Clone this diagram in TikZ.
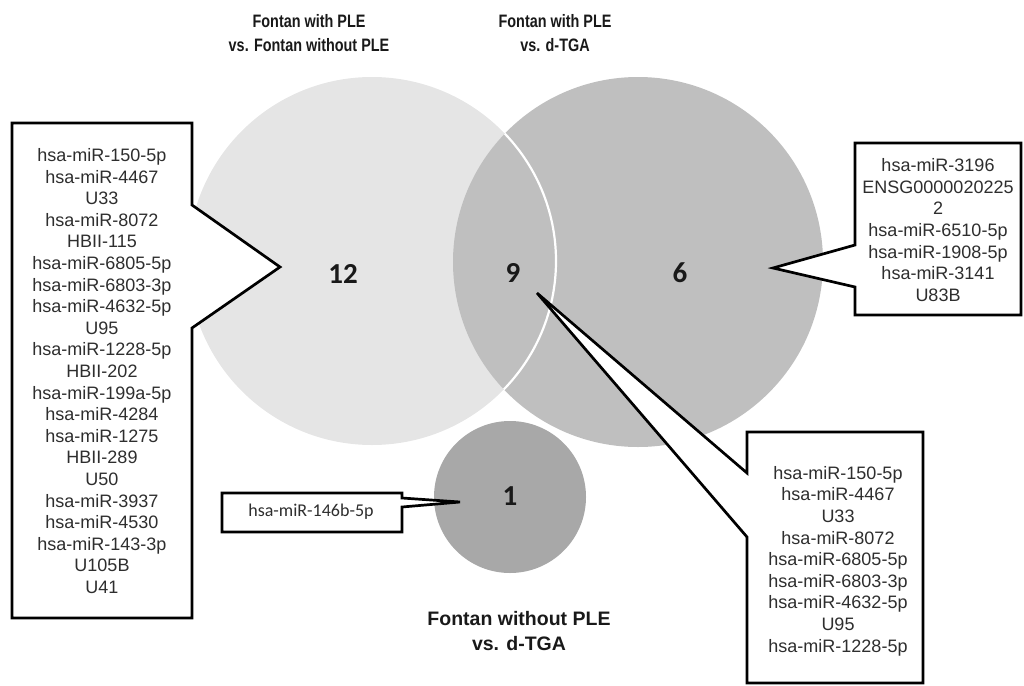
\documentclass[tikz,border=0pt]{standalone}
\usepackage{fontspec}
\setmainfont{Liberation Sans}
\newfontfamily\arialfont{Liberation Sans}
\newfontfamily\carlito{Carlito}
\newfontfamily\narrowfont{Liberation Sans}[FakeStretch=0.8]
\definecolor{circA}{RGB}{229,229,229}
\definecolor{circB}{RGB}{191,191,191}
\definecolor{circC}{RGB}{168,168,168}
\begin{document}
\begin{tikzpicture}[x=1pt,y=-1pt,
  venn/.style={circle, inner sep=0pt, draw=none},
  callout/.style={draw=black, line width=2.7pt, fill=white, line join=miter},
  listtext/.style={font=\arialfont\fontsize{18}{21.6}\selectfont, align=center, inner sep=0pt, text=black!82},
  countlbl/.style={font=\carlito\bfseries\fontsize{29}{30}\selectfont, inner sep=0pt, text=black!90},
  toptitle/.style={font=\narrowfont\bfseries\fontsize{18}{23.5}\selectfont, align=center, inner sep=0pt, text=black!90},
  bottitle/.style={font=\arialfont\bfseries\fontsize{19.5}{25}\selectfont, align=center, inner sep=0pt, text=black!90}]
\useasboundingbox (0,0) rectangle (1024,685);

% circles
\node[venn, fill=circA, minimum size=368pt] (A) at (372,261) {};
\node[venn, fill=circB, minimum size=370pt] (B) at (638,262) {};
\begin{scope}
  \clip (638,262) circle (185pt);
  \draw[white, line width=2.2pt] (372,261) circle (184pt);
\end{scope}
\node[venn, fill=circC, minimum size=152pt] (C) at (510,497) {};

% counts
\node[countlbl] (n12) at (343,274) {12};
\node[countlbl] (n9) at (513,273) {9};
\node[countlbl] (n6) at (680,273) {6};
\node[countlbl] (n1) at (510,496) {1};

% titles
\node[toptitle] (t1) at (309,33) {Fontan with PLE\\vs. Fontan without PLE};
\node[toptitle] (t2) at (555,33) {Fontan with PLE\\vs. d-TGA};
\node[bottitle] (t3) at (519,631) {Fontan without PLE\\vs. d-TGA};

% callouts
\coordinate (tipL) at (280,267);
\coordinate (tipR) at (773,268);
\coordinate (tipM) at (537,293);
\coordinate (tipS) at (460,502);

\draw[callout] (12,123) -- (192,123) -- (192,205) -- (tipL) -- (192,328) -- (192,618) -- (12,618) -- cycle;
\draw[callout] (855,143) -- (1021,143) -- (1021,315) -- (855,315) -- (855,287) -- (tipR) -- (855,245) -- cycle;
\draw[callout] (747,432) -- (923,432) -- (923,683) -- (747,683) -- (747,537) -- (tipM) -- (747,473) -- cycle;
\draw[callout] (222,493) -- (402,493) -- (402,498) -- (tipS) -- (402,507) -- (402,532) -- (222,532) -- cycle;

% list texts
\node[listtext] (listL) at (102,371) {hsa-miR-150-5p\\hsa-miR-4467\\U33\\hsa-miR-8072\\HBII-115\\hsa-miR-6805-5p\\hsa-miR-6803-3p\\hsa-miR-4632-5p\\U95\\hsa-miR-1228-5p\\HBII-202\\hsa-miR-199a-5p\\hsa-miR-4284\\hsa-miR-1275\\HBII-289\\U50\\hsa-miR-3937\\hsa-miR-4530\\hsa-miR-143-3p\\U105B\\U41};
\node[listtext] (listR) at (938,230) {hsa-miR-3196\\ENSG0000020225\\2\\hsa-miR-6510-5p\\hsa-miR-1908-5p\\hsa-miR-3141\\U83B};
\node[listtext] (listM) at (838,561) {hsa-miR-150-5p\\hsa-miR-4467\\U33\\hsa-miR-8072\\hsa-miR-6805-5p\\hsa-miR-6803-3p\\hsa-miR-4632-5p\\U95\\hsa-miR-1228-5p};
\node[listtext, font=\carlito\fontsize{18}{21}\selectfont] (listS) at (311,512) {hsa-miR-146b-5p};
\end{tikzpicture}
\end{document}
